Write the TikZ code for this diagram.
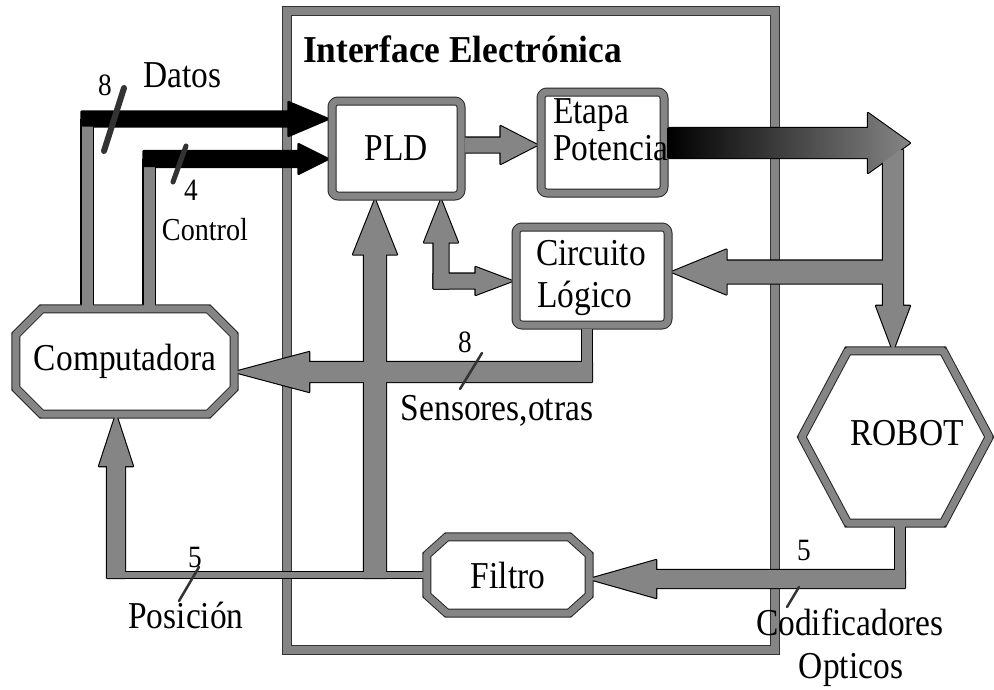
\documentclass[tikz,border=0pt]{standalone}
\usepackage{fontspec}
\setmainfont[FakeStretch=0.88]{Liberation Serif}
\newfontfamily\ttlfont[FakeStretch=0.93]{Liberation Serif}
\usetikzlibrary{calc}
\definecolor{stip}{gray}{0.52}
\pgfdeclarelayer{back}\pgfdeclarelayer{outl}\pgfsetlayers{back,outl,main}
\newcommand{\fatpoly}[6]{%
 \path[#1] let \p1=(#2), \p2=(#3), \n1={atan2(\y2-\y1,\x2-\x1)}, \p3=($(\p2)-(\n1:#6pt)$) in
 ($(\p1)+(\n1+90:#4pt)$) -- ($(\p3)+(\n1+90:#4pt)$) -- ($(\p3)+(\n1+90:#5pt)$) -- (\p2) -- ($(\p3)+(\n1-90:#5pt)$) -- ($(\p3)+(\n1-90:#4pt)$) -- ($(\p1)+(\n1-90:#4pt)$) -- cycle;}
\newcommand{\fatarrow}[6][fill=stip]{%
 \begin{pgfonlayer}{outl}\fatpoly{draw=black,fill=black,line width=2.2pt,line join=round}{#2}{#3}{#4}{#5}{#6}\end{pgfonlayer}
 \fatpoly{#1}{#2}{#3}{#4}{#5}{#6}}
\newcommand{\gline}[3][stip]{%
 \begin{pgfonlayer}{outl}\draw[black, line width=#2pt+2.2pt] #3;\end{pgfonlayer}
 \draw[#1, line width=#2pt] #3;}
\newcommand{\octbox}[3]{\draw[boxline] ($(#1.north west)+(#2,0)$) -- ($(#1.north east)+(-#2,0)$) -- ($(#1.north east)+(0,#3)$) -- ($(#1.south east)+(0,-#3)$) -- ($(#1.south east)+(-#2,0)$) -- ($(#1.south west)+(#2,0)$) -- ($(#1.south west)+(0,-#3)$) -- ($(#1.north west)+(0,#3)$) -- cycle;}
\begin{document}
\begin{tikzpicture}[x=1pt,y=-1pt,
 boxline/.style={draw=stip, line width=7pt, preaction={draw=black!85, line width=9pt}, line join=round},
 framebox/.style={draw=stip, line width=8pt, preaction={draw=black!80, line width=9.5pt}, inner sep=0pt},
 txt/.style={font=\fontsize{38}{42}\selectfont, inner sep=0pt},
 rbox/.style={boxline, rounded corners=6pt, inner sep=0pt, txt},
 plain/.style={inner sep=0pt, txt},
 num/.style={font=\fontsize{31}{34}\selectfont, inner sep=0pt},
 small/.style={font=\fontsize{32}{36}\selectfont, inner sep=0pt},
 ttl/.style={font=\ttlfont\bfseries\fontsize{38}{42}\selectfont, inner sep=0pt},
 busmark/.style={draw=black!80, line width=#1, line cap=round}]
\useasboundingbox (0,0) rectangle (994,689);
\begin{pgfonlayer}{back}
 \fill[white] (0,0) rectangle (994,689);
 \node[framebox, minimum width=488pt, minimum height=639pt] (iface) at (531,330.5) {};
\end{pgfonlayer}
\node[ttl, anchor=base] (title) at (462.5,62) {Interface Electrónica};
% boxes
\node[rbox, minimum width=129pt, minimum height=95pt] (pld) at (396.5,148.5) {PLD};
\node[rbox, minimum width=123pt, minimum height=101pt] (etapa) at (602.5,142.5) {};
\node[txt, anchor=base west] (etapa1) at (553,123) {Etapa};
\node[txt, anchor=base west] (etapa2) at (553,160) {Potencia};
\node[rbox, minimum width=152pt, minimum height=98pt] (circ) at (592,276) {};
\node[txt, anchor=base west] (circ1) at (536,265) {Circuito};
\node[txt, anchor=base west] (circ2) at (537,307) {Lógico};
\node[plain, minimum width=218pt, minimum height=105pt] (comp) at (125,361.5) {Computadora};
\octbox{comp}{26}{26}
\node[plain, minimum width=162pt, minimum height=76pt] (filtro) at (508,575) {Filtro};
\octbox{filtro}{20}{18}
\node[plain, minimum width=187pt, minimum height=172pt] (robot) at (895.5,437) {};
\draw[boxline] ($(robot.north west)+(46,0)$) -- ($(robot.north east)+(-46,0)$) -- (robot.east) -- ($(robot.south east)+(-46,0)$) -- ($(robot.south west)+(46,0)$) -- (robot.west) -- cycle;
\node[txt, anchor=base] (robotlbl) at (907,445) {ROBOT};
% Datos bus
\coordinate (dA) at (87,119);
\coordinate (dB) at (dA |- comp.north);
\coordinate (dS) at (81.5,119);
\coordinate (dT) at (dA -| pld.west);
\gline{11}{(dB) -- (dA)}
\fatarrow[fill=black]{dS}{dT}{7.5}{17}{40}
% Control bus
\coordinate (cA) at (149,159);
\coordinate (cB) at (cA |- comp.north);
\coordinate (cS) at (143.5,159);
\coordinate (cT) at (cA -| pld.west);
\gline{11}{(cB) -- (cA)}
\fatarrow[fill=black]{cS}{cT}{8}{15}{30}
\draw[busmark=6pt] (104,151) -- (124,88);
\draw[busmark=5pt] (173,182) -- (186,146);
\node[num, anchor=base] (n8) at (105,95) {8};
\node[txt, anchor=base] (datos) at (182.5,87) {Datos};
\node[num, anchor=base] (n4) at (191,200) {4};
\node[small, anchor=base] (control) at (205,240) {Control};
% PLD -> Etapa
\coordinate (py) at (0,145);
\coordinate (aS) at (py -| pld.east);
\coordinate (aT) at (py -| etapa.west);
\fatarrow{aS}{aT}{7.5}{19}{37}
% Etapa -> Robot
\coordinate (ey) at (0,143);
\coordinate (eS) at (ey -| etapa.east);
\coordinate (eT) at (910,143);
\coordinate (vS) at (893,150);
\coordinate (vT) at (vS |- robot.north);
\fatarrow{vS}{vT}{10}{17}{45}
\fatarrow[left color=black, right color=stip]{eS}{eT}{15}{30}{42}
\coordinate (lS) at (893,272);
\coordinate (lT) at (lS -| circ.east);
\fatarrow{lS}{lT}{11.5}{22.5}{55}
% PLD <-> Circuito
\coordinate (qC) at (441,281);
\coordinate (q1) at ($(qC)+(0,7.5)$);
\coordinate (qT1) at (qC |- pld.south);
\coordinate (q2) at ($(qC)+(-7.5,0)$);
\coordinate (qT2) at (qC -| circ.west);
\fatarrow{q1}{qT1}{7.5}{17}{43}
\fatarrow{q2}{qT2}{7.5}{14}{37}
% Sensores
\coordinate (sx) at (587,0);
\coordinate (sy) at (0,372);
\coordinate (sA) at (sx |- circ.south);
\coordinate (sB) at (sx |- sy);
\coordinate (sS) at ($(sB)+(5,0)$);
\coordinate (sT) at (sy -| comp.east);
\gline{10}{(sA) -- (sB)}
\fatarrow{sS}{sT}{10}{20}{75}
\draw[busmark=2.5pt] (460,389) -- (482,353);
\node[num, anchor=base] (n8b) at (465,352) {8};
\node[txt, anchor=base] (sens) at (497,420) {Sensores,otras};
% Robot -> Filtro
\coordinate (rx) at (900,0);
\coordinate (ry) at (0,579);
\coordinate (rA) at (rx |- robot.south);
\coordinate (rB) at (rx |- ry);
\coordinate (rS) at ($(rB)+(5,0)$);
\coordinate (rT) at (ry -| filtro.east);
\gline{10}{(rA) -- (rB)}
\fatarrow{rS}{rT}{9}{19}{67}
\draw[busmark=2.5pt] (787,607) -- (799,587);
\node[num, anchor=base] (n5b) at (804,560) {5};
\node[txt, anchor=base] (codif) at (850,635) {Codificadores};
\node[txt, anchor=base] (opt) at (851,678) {Opticos};
% Filtro -> Computadora, PLD
\coordinate (px) at (116,0);
\coordinate (pA) at (px |- filtro.west);
\coordinate (pS) at ($(pA)+(0,3)$);
\coordinate (pT) at (px |- comp.south);
\gline{6}{(filtro.west) -- (pA)}
\fatarrow{pS}{pT}{9}{17}{52}
\coordinate (bx) at (375,0);
\coordinate (bS) at ($(bx |- filtro.west)+(0,3)$);
\coordinate (bT) at (bx |- pld.south);
\fatarrow{bS}{bT}{11}{22}{55}
\draw[busmark=2.5pt] (179,601) -- (199,567);
\node[num, anchor=base] (n5) at (195,567) {5};
\node[txt, anchor=base] (posic) at (186,628) {Posición};
\end{tikzpicture}
\end{document}
